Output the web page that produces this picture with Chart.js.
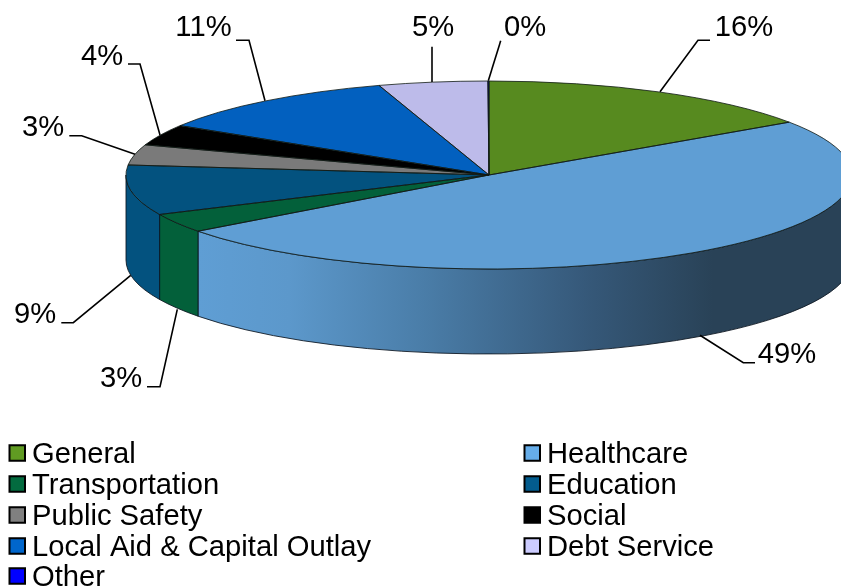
<!DOCTYPE html>
<html>
<head>
<meta charset="utf-8">
<style>html,body{margin:0;padding:0;background:#fff}canvas{display:block}</style>
<script src="https://cdn.jsdelivr.net/npm/chart.js@4"></script>
</head>
<body>
<canvas id="c" width="841" height="586"></canvas>
<script>
const categories = ["General","Healthcare","Transportation","Education","Public Safety","Social","Local Aid & Capital Outlay","Debt Service","Other"];
const shares = [15.5,49.3,3.3,8.6,3.5,3.6,11.3,4.85,0.05];
const shareLabels = ["16%","49%","3%","9%","3%","4%","11%","5%","0%"];
const topColors = ["#578a1f","#5f9ed4","#03603a","#03527f","#7a7a7a","#000000","#0260bf","#bdbbea","#0000ee"];
const legendColors = ["#609b22","#66ade9","#036b3f","#035c8e","#808080","#000000","#0066cc","#ccccff","#0000ff"];

const PIE = {cx:489, cy:175, rx:363, ry:94, depth:85};
const FONT = '29.2px "Liberation Sans", Arial, sans-serif';
const LABEL_LAYOUT = [
  {x:744, y:28,  line:[[660,91.7],[698,40.3],[710,40.3]]},
  {x:787, y:355, line:[[700,335.3],[743.3,362.7],[755,362.7]]},
  {x:121, y:379, line:[[177.3,309.3],[160,386.7],[147,386.7]]},
  {x:35,  y:315, line:[[130.7,275.3],[73.3,322.7],[61.3,322.7]]},
  {x:43,  y:128, line:[[135,154.3],[81.7,135.7],[69.3,135.7]]},
  {x:102, y:57,  line:[[160,135],[140,64],[128,64]]},
  {x:203.5,y:28, line:[[265,100.7],[249,40.3],[236,40.3]]},
  {x:433, y:28,  line:[[432,82],[432,46.7]]},
  {x:525, y:28,  line:[[488.3,80.7],[500.7,40.7]]}
];
const LEGEND = {cols:[9,524], textGap:23, rows:[453,484,515,546,576], textDy:2, size:15.5};

function sideFill(ctx, i){
  if (i !== 1) return topColors[i];
  const g = ctx.createLinearGradient(199,0,841,0);
  g.addColorStop(0,"#5f9ed4");
  g.addColorStop(0.14,"#5c98cb");
  g.addColorStop(0.35,"#4a7da8");
  g.addColorStop(0.6,"#36597a");
  g.addColorStop(0.8,"#294257");
  g.addColorStop(1,"#294257");
  return g;
}

const pie3d = {
  id:"pie3d",
  beforeDatasetsDraw(chart){
    const ctx = chart.ctx, arcs = chart.getDatasetMeta(0).data, {cx,cy,rx,ry,depth} = PIE;
    ctx.save();
    arcs.forEach((a,i)=>{
      const s = Math.max(a.startAngle,0), e = Math.min(a.endAngle,Math.PI);
      if (e <= s) return;
      ctx.beginPath();
      ctx.ellipse(cx,cy,rx,ry,0,s,e);
      ctx.ellipse(cx,cy+depth,rx,ry,0,e,s,true);
      ctx.closePath();
      ctx.fillStyle = sideFill(ctx,i);
      ctx.fill();
      ctx.strokeStyle = "rgba(10,20,30,0.85)";
      ctx.lineWidth = 1;
      ctx.stroke();
    });
    ctx.restore();
    const a0 = arcs[0];
    ctx.save();
    ctx.translate(cx,cy);
    ctx.scale(rx/a0.outerRadius, ry/a0.outerRadius);
    ctx.translate(-a0.x,-a0.y);
  },
  afterDatasetsDraw(chart){
    const ctx = chart.ctx, arcs = chart.getDatasetMeta(0).data, {cx,cy,rx,ry} = PIE;
    ctx.restore();
    ctx.save();
    ctx.lineWidth = 1;
    ctx.strokeStyle = "rgba(15,25,20,0.8)";
    arcs.forEach(a=>{
      ctx.beginPath();
      ctx.moveTo(cx,cy);
      ctx.ellipse(cx,cy,rx,ry,0,a.startAngle,a.endAngle);
      ctx.closePath();
      ctx.stroke();
    });
    // leader lines and value labels
    ctx.strokeStyle = "#000";
    ctx.lineWidth = 1.6;
    LABEL_LAYOUT.forEach(l=>{
      ctx.beginPath();
      l.line.forEach((p,i)=> i ? ctx.lineTo(p[0],p[1]) : ctx.moveTo(p[0],p[1]));
      ctx.stroke();
    });
    ctx.fillStyle = "#000";
    ctx.font = FONT;
    ctx.textAlign = "center";
    ctx.textBaseline = "middle";
    LABEL_LAYOUT.forEach((l,i)=> ctx.fillText(shareLabels[i], l.x, l.y));
    // legend
    ctx.textAlign = "left";
    chart.data.labels.forEach((t,i)=>{
      const col = LEGEND.cols[i%2], y = LEGEND.rows[Math.floor(i/2)], s = LEGEND.size;
      ctx.fillStyle = legendColors[i];
      ctx.fillRect(col+0.5,y-s/2,s,s);
      ctx.strokeStyle = "#000";
      ctx.lineWidth = 2;
      ctx.strokeRect(col+0.5,y-s/2,s,s);
      ctx.fillStyle = "#000";
      ctx.fillText(t,col+LEGEND.textGap,y+LEGEND.textDy);
    });
    ctx.restore();
  }
};

new Chart(document.getElementById("c"),{
  type:"pie",
  data:{labels:categories,datasets:[{data:shares,backgroundColor:topColors,borderWidth:0,hoverOffset:0}]},
  options:{
    responsive:false,
    animation:false,
    layout:{padding:0},
    plugins:{legend:{display:false},tooltip:{enabled:false}}
  },
  plugins:[pie3d]
});
</script>
</body>
</html>
